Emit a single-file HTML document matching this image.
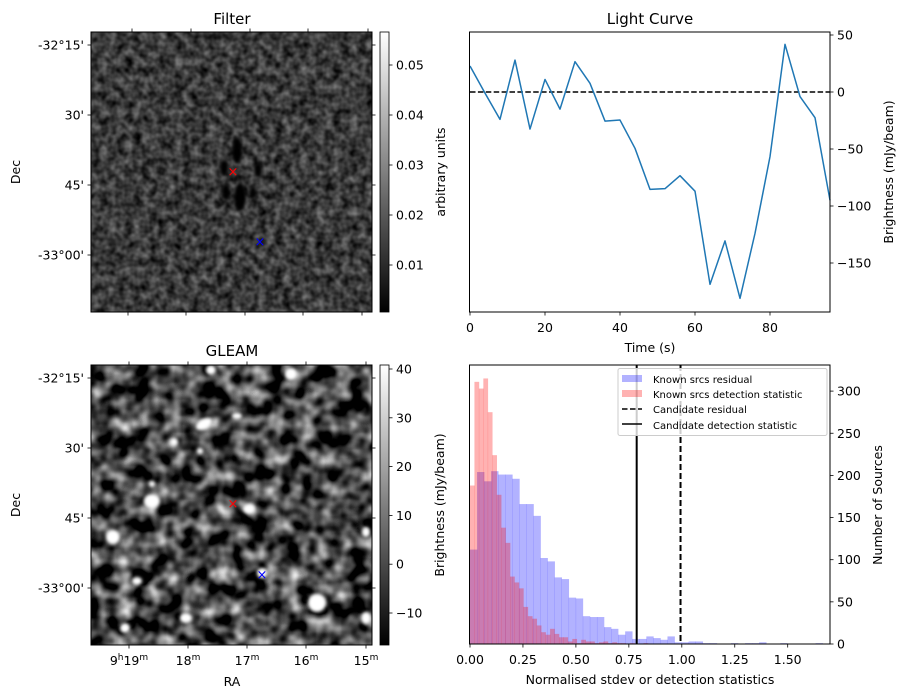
<!DOCTYPE html>
<html><head><meta charset="utf-8"><style>
html,body{margin:0;padding:0;background:#fff;}
svg{display:block;font-family:"DejaVu Sans","Liberation Sans",sans-serif;}
text{font-size:12.5px;fill:#000;}
.t{font-size:15px;}
.lg{font-size:10px;}
</style></head><body>
<svg id="fig" width="907" height="699" viewBox="0 0 907 699" xmlns="http://www.w3.org/2000/svg">
<defs>
<filter id="nF" x="0" y="0" width="100%" height="100%" color-interpolation-filters="sRGB"><feTurbulence type="fractalNoise" baseFrequency="0.12" numOctaves="2" seed="3"/><feColorMatrix type="matrix" values="0.62 0 0 0 -0.08  0.62 0 0 0 -0.08  0.62 0 0 0 -0.08  0 0 0 0 1"/></filter>
<filter id="nG" x="0" y="0" width="100%" height="100%" color-interpolation-filters="sRGB"><feTurbulence type="fractalNoise" baseFrequency="0.06" numOctaves="2" seed="11"/><feColorMatrix type="matrix" values="1.7 0 0 0 -0.58  1.7 0 0 0 -0.58  1.7 0 0 0 -0.58  0 0 0 0 1"/></filter>
<filter id="bl"><feGaussianBlur stdDeviation="1.6"/></filter>
<filter id="bl2"><feGaussianBlur stdDeviation="1.5"/></filter>
<clipPath id="cF"><rect x="91" y="32" width="281" height="280"/></clipPath>
<clipPath id="cG"><rect x="91" y="365" width="281" height="280"/></clipPath>
<linearGradient id="gr" x1="0" y1="1" x2="0" y2="0"><stop offset="0" stop-color="#000"/><stop offset="1" stop-color="#fff"/></linearGradient>
</defs>

<text class="t" x="232" y="24" text-anchor="middle">Filter</text>
<g clip-path="url(#cF)">
<rect x="91" y="32" width="281" height="280" filter="url(#nF)"/>
<g filter="url(#bl2)" fill="#000">
<ellipse cx="237" cy="151" rx="5" ry="13"/><ellipse cx="240" cy="197" rx="6" ry="14"/>
<ellipse cx="224" cy="168" rx="4" ry="8"/><ellipse cx="226" cy="192" rx="4" ry="8"/><ellipse cx="258" cy="170" rx="4" ry="7"/><ellipse cx="253" cy="192" rx="3" ry="6"/>
</g></g>
<rect x="91" y="32" width="281" height="280" fill="none" stroke="#000"/>
<text x="233" y="176" style="fill:red;font-size:13px" text-anchor="middle">×</text>
<text x="260" y="246" style="fill:blue;font-size:13px" text-anchor="middle">×</text>
<rect x="380" y="32" width="9" height="280" fill="url(#gr)" stroke="#000" stroke-width="0.8"/>
<g id="fgTicks"></g>
<text transform="translate(445,172) rotate(-90)" text-anchor="middle">arbitrary units</text>
<text transform="translate(20,172) rotate(-90)" text-anchor="middle">Dec</text>

<text class="t" x="232" y="356" text-anchor="middle">GLEAM</text>
<g clip-path="url(#cG)">
<rect x="91" y="365" width="281" height="280" filter="url(#nG)"/>
<g id="srcs" fill="#fff" filter="url(#bl)"></g>
</g>
<rect x="91" y="365" width="281" height="280" fill="none" stroke="#000"/>
<text x="233" y="508" style="fill:red;font-size:13px" text-anchor="middle">×</text>
<text x="262" y="579" style="fill:blue;font-size:13px" text-anchor="middle">×</text>
<rect x="380" y="365" width="9" height="280" fill="url(#gr)" stroke="#000" stroke-width="0.8"/>
<text transform="translate(444,505) rotate(-90)" text-anchor="middle">Brightness (mJy/beam)</text>
<text transform="translate(20,505) rotate(-90)" text-anchor="middle">Dec</text>
<text x="232" y="686" text-anchor="middle">RA</text>

<text class="t" x="650" y="24" text-anchor="middle">Light Curve</text>
<g id="lc"></g>
<rect x="469.5" y="32" width="360.5" height="280" fill="none" stroke="#000"/>
<text x="650" y="352" text-anchor="middle">Time (s)</text>
<text transform="translate(893,172) rotate(-90)" text-anchor="middle">Brightness (mJy/beam)</text>

<g id="hist"></g>
<rect x="469.5" y="365" width="360.5" height="279" fill="none" stroke="#000"/>
<text x="650" y="684" text-anchor="middle">Normalised stdev or detection statistics</text>
<text transform="translate(882,505) rotate(-90)" text-anchor="middle">Number of Sources</text>
<g>
<rect x="618" y="368.5" width="209" height="67" rx="2" fill="#fff" fill-opacity="0.8" stroke="#ccc"/>
<rect x="622" y="375" width="20" height="7" fill="#00f" fill-opacity="0.3"/><text class="lg" x="653" y="383">Known srcs residual</text>
<rect x="622" y="390" width="20" height="7" fill="#f00" fill-opacity="0.3"/><text class="lg" x="653" y="398">Known srcs detection statistic</text>
<line x1="622" x2="642" y1="409" y2="409" stroke="#000" stroke-width="1.5" stroke-dasharray="5.5,2.5"/><text class="lg" x="653" y="413">Candidate residual</text>
<line x1="622" x2="642" y1="424" y2="424" stroke="#000" stroke-width="1.5"/><text class="lg" x="653" y="429">Candidate detection statistic</text>
</g>
</svg>
<script>
const NS='http://www.w3.org/2000/svg';
// ---- light curve data
const lcTimes=[0,4,8,12,16,20,24,28,32,36,40,44,48,52,56,60,64,68,72,76,80,84,88,92,96];
const lcValues=[22.8,-1,-24,28,-32.5,11,-15,26.6,7.6,-25.5,-24.6,-49.4,-85.4,-84.8,-73.4,-87,-168.7,-130.6,-181,-124,-56.7,41.8,-4,-22.5,-95];
const lcXTicks=[0,20,40,60,80];
const lcYTicks=[50,0,-50,-100,-150];
// ---- histogram data
const blueCounts=[112,204,193,205,201,201,196,166,166,152,102,98,79,77,55,54,33,32,32,20,18,11,15,6,6,9,7,5,9,2,2,3,3,1,1,0,0,1,0,1,1,2,0,0,1,0,0,0,0,1];
const redCounts=[188,311,303,315,275,224,177,138,120,80,73,66,44,33,30,22,14,11,18,12,8,8,3,6,1,5,3,3,1,2,3,1,2,1,1,0,1,0,0,1];
const blueBinWidth=0.0333;
const redBinWidth=0.021;
const candidateResidual=0.994;
const candidateDetection=0.787;
const histXTicks=['0.00','0.25','0.50','0.75','1.00','1.25','1.50'];
const histYTicks=[0,50,100,150,200,250,300];
// ---- image axis labels
const decLabels=['-32°15\'','30\'','45\'','-33°00\''];
const raLabels=['19','18','17','16','15'];
const filterCbTicks=['0.05','0.04','0.03','0.02','0.01'];
const gleamCbTicks=['40','30','20','10','0','−10'];

function mk(tag,attrs,parent,txt){const e=document.createElementNS(NS,tag);for(const k in attrs)e.setAttribute(k,attrs[k]);if(txt!==undefined)e.textContent=txt;(parent||document.getElementById('fig')).appendChild(e);return e;}
function tick(x1,y1,x2,y2,p){return mk('line',{x1:x1,y1:y1,x2:x2,y2:y2,stroke:'#000','stroke-width':0.8},p);}

const lx=t=>470+(t-0)/96*360, ly=v=>92-v*1.14;
const lc=document.getElementById('lc');
const zl=mk('line',{x1:470,x2:830,y1:ly(0),y2:ly(0),stroke:'#000','stroke-width':1.5,'stroke-dasharray':'5.5,2.4'},lc);


const pl=mk('polyline',{points:lcTimes.map((t,i)=>lx(t)+','+ly(lcValues[i])).join(' '),fill:'none',stroke:'#1f77b4','stroke-width':1.5,'stroke-linejoin':'round'},lc);


lcXTicks.forEach(t=>{tick(lx(t),312,lx(t),315.5,lc);const e=mk('text',{x:lx(t),y:332,'text-anchor':'middle'},lc,String(t));

});
lcYTicks.forEach(v=>{tick(830,ly(v),833.5,ly(v),lc);const e=mk('text',{x:837,y:ly(v)+4.5},lc,v<0?'−'+(-v):String(v));

});

const hx=v=>470+v*211.8, hy=c=>644-c*0.843;
const hg=document.getElementById('hist');
blueCounts.forEach((c,i)=>{if(!c)return;const r=mk('rect',{x:hx(i*blueBinWidth),y:hy(c),width:blueBinWidth*211.8+0.3,height:c*0.843,fill:'#00f','fill-opacity':0.3},hg);

});
redCounts.forEach((c,i)=>{if(!c)return;const r=mk('rect',{x:hx(i*redBinWidth),y:hy(c),width:redBinWidth*211.8+0.3,height:c*0.843,fill:'#f00','fill-opacity':0.3},hg);

});
const l1=mk('line',{x1:hx(candidateDetection),x2:hx(candidateDetection),y1:365,y2:644,stroke:'#000','stroke-width':2},hg);


const l2=mk('line',{x1:hx(candidateResidual),x2:hx(candidateResidual),y1:365,y2:644,stroke:'#000','stroke-width':2,'stroke-dasharray':'6,3'},hg);


histXTicks.forEach(s=>{const x=hx(parseFloat(s));tick(x,644,x,647.5,hg);const e=mk('text',{x:x,y:664,'text-anchor':'middle'},hg,s);

});
histYTicks.forEach(c=>{tick(830,hy(c),833.5,hy(c),hg);const e=mk('text',{x:837,y:hy(c)+4.5},hg,String(c));

});

const fg=document.getElementById('fgTicks');
const decY=[45,115,185,255];
[[32,0],[365,333]].forEach(([top,off])=>{
 decLabels.forEach((s,i)=>{const y=decY[i]+off;tick(91,y,87.5,y,fg);tick(372,y,375.5,y,fg);const e=mk('text',{x:84,y:y+4.5,'text-anchor':'end'},fg,s);
 
 });
});
[132,191,250,308,368].forEach(x=>tick(x,32,x,28.5,fg));
[128,186,245,303,362].forEach(x=>tick(x,312,x,315.5,fg));
const raX=[129,188,247,306,366];
raX.forEach((x,i)=>{tick(x,365,x,361.5,fg);tick(x,645,x,648.5,fg);
 const e=mk('text',{x:x,y:665,'text-anchor':'middle'},fg);
 
 
 if(i===0){e.appendChild(document.createTextNode('9'));mk('tspan',{dy:-5,style:'font-size:9px'},e,'h');}
 mk('tspan',{dy:i===0?5:0},e,raLabels[i]);mk('tspan',{dy:-5,style:'font-size:9px'},e,'m');});
filterCbTicks.forEach((s,i)=>{const y=65+i*50;tick(389,y,392.5,y,fg);const e=mk('text',{x:396,y:y+4.5},fg,s);
 
 });
gleamCbTicks.forEach((s,i)=>{const y=369+i*48.8;tick(389,y,392.5,y,fg);const e=mk('text',{x:396,y:y+4.5},fg,s);
 
 });

const srcs=document.getElementById('srcs');
[[211,370,5,5],[291,374,6,6],[204,424,9,5],[152,501,8,7],[249,509,6,5],[113,537,7,7],[137,581,5,4],[262,573,5,5],[317,603,9,9],[186,618,6,5],[125,628,5,5],[366,618,5,6],[366,532,4,5],[174,442,4,4],[237,416,5,3],[152,484,3,3],[200,451,3,3]].forEach(s=>{
 const e=mk('ellipse',{cx:s[0],cy:s[1],rx:s[2],ry:s[3],transform:s[0]===204?'rotate(-30 204 424)':''},srcs);
 
 });
</script>
</body></html>
